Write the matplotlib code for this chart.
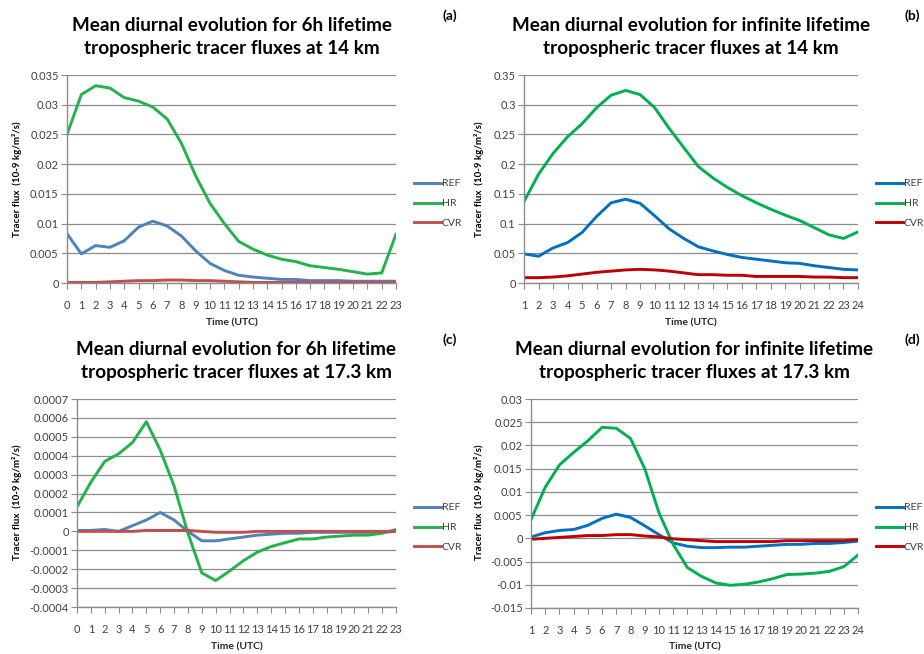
import numpy as np
import matplotlib.pyplot as plt

plt.rcParams['font.family'] = ['Lato', 'DejaVu Sans']

# hours
hours_6h = list(range(0, 24))
hours_inf = list(range(1, 25))

# (a) 6h lifetime, 14 km
ref_a = [0.0083, 0.0049, 0.0063, 0.0060, 0.0071, 0.0094, 0.0104, 0.0096, 0.0079, 0.0054,
         0.0033, 0.0021, 0.0013, 0.0010, 0.0008, 0.0006, 0.0006, 0.0004, 0.0004, 0.0004,
         0.0003, 0.0003, 0.0003, 0.0003]
hr_a = [0.0250, 0.0317, 0.0332, 0.0328, 0.0312, 0.0306, 0.0296, 0.0276, 0.0235, 0.0180,
        0.0134, 0.0100, 0.0070, 0.0057, 0.0047, 0.0040, 0.0036, 0.0029, 0.0026, 0.0023,
        0.0019, 0.0015, 0.0017, 0.0082]
cvr_a = [0.0001, 0.0001, 0.0001, 0.0002, 0.0003, 0.0004, 0.0004, 0.0005, 0.0005, 0.0004,
         0.0004, 0.0003, 0.0002, 0.0001, 0.0001, 0.0001, 0.0001, 0.0001, 0.0001, 0.0001,
         0.0001, 0.0001, 0.0001, 0.0001]

# (b) infinite lifetime, 14 km
ref_b = [0.049, 0.045, 0.059, 0.068, 0.085, 0.112, 0.135, 0.141, 0.134, 0.113,
         0.091, 0.075, 0.061, 0.054, 0.048, 0.043, 0.040, 0.037, 0.034, 0.033,
         0.029, 0.026, 0.023, 0.022]
hr_b = [0.137, 0.183, 0.218, 0.246, 0.268, 0.295, 0.316, 0.324, 0.317, 0.295,
        0.260, 0.228, 0.196, 0.177, 0.161, 0.147, 0.135, 0.124, 0.114, 0.105,
        0.093, 0.081, 0.075, 0.086]
cvr_b = [0.009, 0.009, 0.010, 0.012, 0.015, 0.018, 0.020, 0.022, 0.023, 0.022,
         0.020, 0.017, 0.014, 0.014, 0.013, 0.013, 0.011, 0.011, 0.011, 0.011,
         0.010, 0.010, 0.009, 0.009]

# (c) 6h lifetime, 17.3 km
ref_c = [0.000005, 0.000005, 0.00001, 0.0, 0.00003, 0.00006, 0.0001, 0.00006, 0.0, -0.00005,
         -0.00005, -0.00004, -0.00003, -0.00002, -0.000015, -0.00001, -0.00001, -0.000005,
         -0.000005, -0.000005, -0.000005, -0.000005, -0.000005, 0.0]
hr_c = [0.00013, 0.00026, 0.00037, 0.00041, 0.00047, 0.00058, 0.00043, 0.00024, -0.00001, -0.00022,
        -0.00026, -0.00021, -0.000155, -0.00011, -0.00008, -0.00006, -0.00004, -0.00004, -0.00003,
        -0.000025, -0.00002, -0.00002, -0.00001, 0.00001]
cvr_c = [0.0, 0.0, 0.0, 0.0, 0.0, 0.000005, 0.000005, 0.000005, 0.000005, 0.0,
         -0.000005, -0.000005, -0.000005, 0.0, 0.0, 0.0, 0.0, 0.0, 0.0, 0.0,
         0.0, 0.0, 0.0, 0.0]

# (d) infinite lifetime, 17.3 km
ref_d = [0.0003, 0.0012, 0.0017, 0.0019, 0.0028, 0.0043, 0.0052, 0.0045, 0.0027, 0.0008,
         -0.0010, -0.0017, -0.0020, -0.0020, -0.0019, -0.0019, -0.0017, -0.0015, -0.0013, -0.0013,
         -0.0011, -0.0011, -0.0009, -0.0006]
hr_d = [0.0040, 0.0110, 0.0158, 0.0185, 0.0210, 0.0239, 0.0237, 0.0215, 0.0150, 0.0055,
        -0.0013, -0.0063, -0.0082, -0.0096, -0.0101, -0.0099, -0.0094, -0.0087, -0.0078, -0.0077,
        -0.0075, -0.0071, -0.0061, -0.0036]
cvr_d = [-0.0002, 0.0000, 0.0002, 0.0004, 0.0006, 0.0006, 0.0008, 0.0008, 0.0005, 0.0003,
         -0.0001, -0.0003, -0.0005, -0.0007, -0.0007, -0.0007, -0.0007, -0.0007, -0.0005, -0.0005,
         -0.0005, -0.0005, -0.0005, -0.0003]

y_ticks_a = ['0', '0.005', '0.01', '0.015', '0.02', '0.025', '0.03', '0.035']
y_ticks_b = ['0', '0.05', '0.1', '0.15', '0.2', '0.25', '0.3', '0.35']
y_ticks_c = ['-0.0004', '-0.0003', '-0.0002', '-0.0001', '0', '0.0001', '0.0002',
             '0.0003', '0.0004', '0.0005', '0.0006', '0.0007']
y_ticks_d = ['-0.015', '-0.01', '-0.005', '0', '0.005', '0.01', '0.015', '0.02', '0.025', '0.03']

pale = ['#4F81BD', '#23B24B', '#C0504D']
strong = ['#0070C0', '#00B050', '#C00000']

W, H = 924, 654
fig = plt.figure(figsize=(W / 100, H / 100), dpi=100)


def px_axes(l, r, t, b):
    return fig.add_axes([l / W, (H - b) / H, (r - l) / W, (b - t) / H])


def panel(box, x, series, colors, yticks, title, tag, tag_xy, leg_y, ylab_xy, xlab_y):
    ax = px_axes(*box)
    for vals, c, name in zip(series, colors, ['REF', 'HR', 'CVR']):
        ax.plot(x, vals, color=c, lw=2.1, label=name, solid_joinstyle='round')
    yv = [float(v) for v in yticks]
    ax.set_ylim(yv[0], yv[-1])
    ax.set_yticks(yv)
    ax.set_yticklabels(yticks)
    ax.set_xlim(x[0], x[-1])
    ax.set_xticks(x)
    ax.set_xticklabels([str(v) for v in x])
    ax.yaxis.grid(True, color='#8c8c8c', lw=0.9)
    ax.set_axisbelow(True)
    for s in ['top', 'right']:
        ax.spines[s].set_visible(False)
    for s in ['left', 'bottom']:
        ax.spines[s].set_color('#8c8c8c')
        ax.spines[s].set_linewidth(1.0)
    ax.tick_params(axis='y', length=4, color='#8c8c8c', labelsize=8, labelcolor='#404040', pad=2)
    ax.tick_params(axis='x', length=4, color='#8c8c8c', labelsize=8, labelcolor='#404040', pad=8)
    ax.set_title(title, fontsize=13.6, fontweight='bold', pad=15, linespacing=1.45)
    fig.text(tag_xy[0] / W, 1 - tag_xy[1] / H, tag, fontsize=10, fontweight='bold', ha='center', va='center')
    fig.text(ylab_xy[0] / W, 1 - ylab_xy[1] / H, 'Tracer flux  (10-9 kg/m²/s)', rotation=90,
             fontsize=7, fontweight='bold', ha='center', va='center')
    fig.text((box[0] + box[1]) / 2 / W, 1 - xlab_y / H, 'Time (UTC)', fontsize=7.5,
             fontweight='bold', ha='center', va='center', color='#262626')
    leg = fig.legend(loc='upper left', bbox_to_anchor=((box[1] + 14) / W, 1 - leg_y / H),
                     frameon=False, fontsize=7.5, handlelength=2.6, handletextpad=0.05,
                     labelspacing=1.0, borderaxespad=0,
                     handles=ax.get_lines(), labels=['REF', 'HR', 'CVR'])
    for t in leg.get_texts():
        t.set_color('#404040')
    return ax


panel((67, 396, 75, 283), hours_6h, [ref_a, hr_a, cvr_a], pale, y_ticks_a,
      'Mean diurnal evolution for 6h lifetime\ntropospheric tracer fluxes at 14 km',
      '(a)', (450, 16), 175, (17, 179), 323)
panel((524, 858, 75, 283), hours_inf, [ref_b, hr_b, cvr_b], strong, y_ticks_b,
      'Mean diurnal evolution for infinite lifetime\ntropospheric tracer fluxes at 14 km',
      '(b)', (912, 16), 175, (479, 179), 323)
panel((77, 396, 399, 607), hours_6h, [ref_c, hr_c, cvr_c], pale, y_ticks_c,
      'Mean diurnal evolution for 6h lifetime\ntropospheric tracer fluxes at 17.3 km',
      '(c)', (450, 340), 499, (17, 502), 647)
panel((531, 858, 399, 608), hours_inf, [ref_d, hr_d, cvr_d], strong, y_ticks_d,
      'Mean diurnal evolution for infinite lifetime\ntropospheric tracer fluxes at 17.3 km',
      '(d)', (912, 340), 499, (479, 502), 647)

fig.savefig('out.png', dpi=100)
